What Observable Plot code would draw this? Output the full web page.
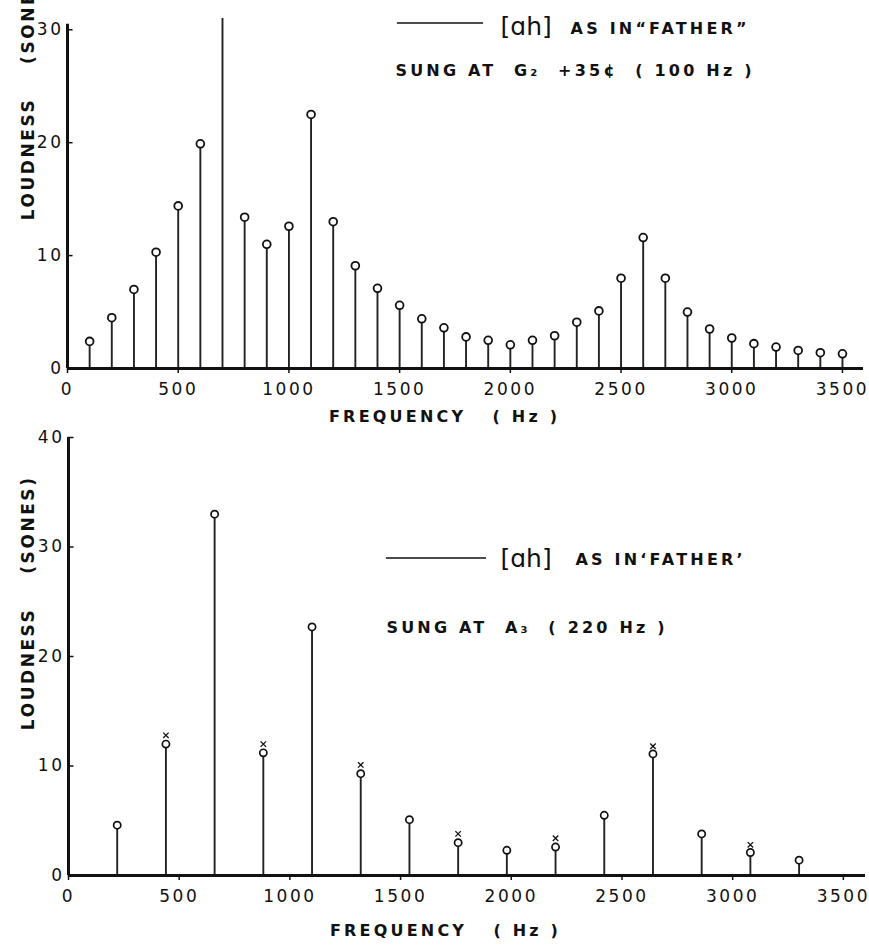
<!DOCTYPE html>
<html>
<head>
<meta charset="utf-8">
<script src="https://cdn.jsdelivr.net/npm/d3@7"></script>
<script src="https://cdn.jsdelivr.net/npm/@observablehq/plot@0.6"></script>
<style>
  body { margin: 0; background: #fff; }
  #charts { width: 869px; }
  #charts svg { display: block; }
  #charts text { letter-spacing: 0.15em; }
  #charts g[font-size="25"] text { letter-spacing: 0; }
  #charts g[font-size="16"] text { letter-spacing: 0.2em; }
</style>
</head>
<body>
<div id="charts"></div>
<script>
// ---- Data: top panel, [ɑh] sung at G2 +35 cents (100 Hz) ----
const topFreq = [100, 200, 300, 400, 500, 600, 700, 800, 900, 1000,
                 1100, 1200, 1300, 1400, 1500, 1600, 1700, 1800, 1900, 2000,
                 2100, 2200, 2300, 2400, 2500, 2600, 2700, 2800, 2900, 3000,
                 3100, 3200, 3300, 3400, 3500];
const topLoud = [2.4, 4.5, 7.0, 10.3, 14.4, 19.9, 31, 13.4, 11.0, 12.6,
                 22.5, 13.0, 9.1, 7.1, 5.6, 4.4, 3.6, 2.8, 2.5, 2.1,
                 2.5, 2.9, 4.1, 5.1, 8.0, 11.6, 8.0, 5.0, 3.5, 2.7,
                 2.2, 1.9, 1.6, 1.4, 1.3];

// ---- Data: bottom panel, [ɑh] sung at A3 (220 Hz) ----
const bottomFreq = [220, 440, 660, 880, 1100, 1320, 1540, 1760, 1980, 2200,
                    2420, 2640, 2860, 3080, 3300];
const bottomLoud = [4.6, 12.0, 33.0, 11.2, 22.7, 9.3, 5.1, 3.0, 2.3, 2.6,
                    5.5, 11.1, 3.8, 2.1, 1.4];
// small "x" marks drawn just above some circles
const bottomXFreq = [440, 880, 1320, 1760, 2200, 2640, 3080];
const bottomXLoud = [12.8, 12.0, 10.1, 3.8, 3.4, 11.8, 2.8];

// ---- Tick labels / text ----
const xTicks = [0, 500, 1000, 1500, 2000, 2500, 3000, 3500];
const topYTicks = [0, 10, 20, 30];
const bottomYTicks = [0, 10, 20, 30, 40];
const xTitle = "FREQUENCY\u00a0\u00a0\u00a0( Hz )";
const yTitle = "LOUDNESS\u00a0\u00a0\u00a0\u00a0(SONES)";
const vowel = "[ɑh]";
const topAsIn = "AS IN\u201CFATHER\u201D";
const topSung = "SUNG AT\u00a0\u00a0G\u2082\u00a0\u00a0+35\u00a2\u00a0\u00a0( 100 Hz )";
const bottomAsIn = "AS IN\u2018FATHER\u2019";
const bottomSung = "SUNG AT\u00a0\u00a0A\u2083\u00a0\u00a0( 220 Hz )";

const ink = "#111";
const font = "'DejaVu Sans', sans-serif";
const fmt = d3.format("d");

const topData = topFreq.map((f, i) => ({f, v: topLoud[i]}));
const bottomData = bottomFreq.map((f, i) => ({f, v: bottomLoud[i]}));
const bottomX = bottomXFreq.map((f, i) => ({f, v: bottomXLoud[i]}));

const baseStyle = {fontFamily: font, fontSize: "17px", background: "white", color: ink};
const bold = {fontWeight: "bold", textAnchor: "start", lineAnchor: "middle"};

const topPlot = Plot.plot({
  width: 869, height: 426,
  marginLeft: 67, marginRight: 6, marginTop: 18, marginBottom: 58,
  x: {domain: [0, 3595]},
  y: {domain: [0, 31]},
  style: baseStyle,
  marks: [
    Plot.ruleX(topData, {x: "f", y1: 0, y2: "v", stroke: "#222", strokeWidth: 1.9}),
    Plot.dot(topData.filter(d => d.v <= 30), {x: "f", y: "v", r: 3.9, fill: "white", stroke: ink, strokeWidth: 1.8}),
    Plot.ruleY([0], {stroke: ink, strokeWidth: 3}),
    Plot.ruleX([0], {y1: 0, y2: 30.5, stroke: ink, strokeWidth: 3}),
    Plot.ruleY(topYTicks, {x1: 0, x2: 25, stroke: ink, strokeWidth: 1.5}),
    Plot.axisX({ticks: xTicks, tickFormat: fmt, tickSize: 5, tickPadding: 9, fontSize: 17, label: null, strokeWidth: 1.5}),
    Plot.axisY({ticks: topYTicks, tickFormat: fmt, tickSize: 0, tickPadding: 4, fontSize: 17, label: null}),
    Plot.text([xTitle], {x: 1703, frameAnchor: "bottom", dy: 48, fontSize: 16, fontWeight: "bold", textAnchor: "middle", lineAnchor: "middle"}),
    Plot.text([yTitle], {y: 24.4, frameAnchor: "left", dx: -39, rotate: -90, fontSize: 17, fontWeight: "bold", textAnchor: "middle", lineAnchor: "middle"}),
    Plot.ruleY([30.6], {x1: 1490, x2: 1879, stroke: ink, strokeWidth: 1.6}),
    Plot.text([vowel], {x: 1956, y: 30.25, fontSize: 25, textAnchor: "start", lineAnchor: "middle"}),
    Plot.text([topAsIn], {x: 2272, y: 30.1, fontSize: 16, ...bold}),
    Plot.text([topSung], {x: 1481, y: 26.4, fontSize: 16, ...bold})
  ]
});

const bottomPlot = Plot.plot({
  width: 869, height: 523,
  marginLeft: 68, marginRight: 4, marginTop: 11, marginBottom: 74,
  x: {domain: [0, 3600]},
  y: {domain: [0, 40]},
  style: baseStyle,
  marks: [
    Plot.ruleX(bottomData, {x: "f", y1: 0, y2: "v", stroke: "#222", strokeWidth: 1.9}),
    Plot.dot(bottomData, {x: "f", y: "v", r: 3.6, fill: "white", stroke: ink, strokeWidth: 1.7}),
    Plot.dot(bottomX, {x: "f", y: "v", r: 2.6, symbol: "times", stroke: ink, strokeWidth: 1.3}),
    Plot.ruleY([0], {stroke: ink, strokeWidth: 3}),
    Plot.ruleX([0], {y1: 0, y2: 40, stroke: ink, strokeWidth: 3}),
    Plot.ruleY(bottomYTicks, {x1: 0, x2: 25, stroke: ink, strokeWidth: 1.5}),
    Plot.axisX({ticks: xTicks, tickFormat: fmt, tickSize: 5, tickPadding: 9, fontSize: 17, label: null, strokeWidth: 1.5}),
    Plot.axisY({ticks: bottomYTicks, tickFormat: fmt, tickSize: 0, tickPadding: 4, fontSize: 17, label: null}),
    Plot.text([xTitle], {x: 1703, frameAnchor: "bottom", dy: 55, fontSize: 16, fontWeight: "bold", textAnchor: "middle", lineAnchor: "middle"}),
    Plot.text([yTitle], {y: 24.9, frameAnchor: "left", dx: -40, rotate: -90, fontSize: 17, fontWeight: "bold", textAnchor: "middle", lineAnchor: "middle"}),
    Plot.ruleY([29.0], {x1: 1436, x2: 1888, stroke: ink, strokeWidth: 1.6}),
    Plot.text([vowel], {x: 1951, y: 28.9, fontSize: 25, textAnchor: "start", lineAnchor: "middle"}),
    Plot.text([bottomAsIn], {x: 2290, y: 28.8, fontSize: 16, ...bold}),
    Plot.text([bottomSung], {x: 1436, y: 22.6, fontSize: 16, ...bold})
  ]
});

const host = document.getElementById("charts");
host.append(topPlot, bottomPlot);
</script>
</body>
</html>
